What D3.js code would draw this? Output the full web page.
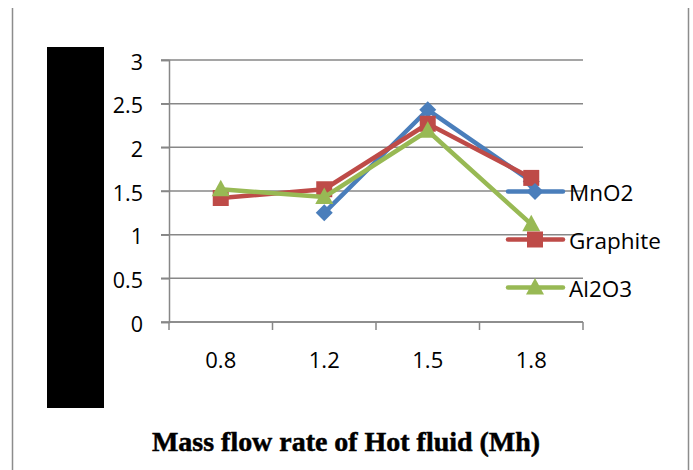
<!DOCTYPE html>
<html>
<head>
<meta charset="utf-8">
<script src="https://cdn.jsdelivr.net/npm/d3@7"></script>
<style>
  html, body { margin: 0; padding: 0; background: #fff; }
  svg { display: block; }
</style>
</head>
<body>
<svg id="chart" width="693" height="470"></svg>
<script>
// Mass flow rate of the hot fluid (x categories)
const categories = ["0.8", "1.2", "1.5", "1.8"];
const yTicks = [0, 0.5, 1, 1.5, 2, 2.5, 3];

// Series values per category (null = no reading)
const mno2 = [null, 1.25, 2.43, 1.61];
const graphite = [1.42, 1.52, 2.27, 1.65];
const al2o3 = [1.52, 1.43, 2.19, 1.12];

const seriesNames = ["MnO2", "Graphite", "Al2O3"];
const seriesColors = ["#4A7EBB", "#BE4B48", "#98B954"];

// Marker shapes: rotated square, square, upward triangle
const markerPaths = {
  diamond: () => { const p = d3.path(); p.moveTo(0, -8.5); p.lineTo(8.5, 0); p.lineTo(0, 8.5); p.lineTo(-8.5, 0); p.closePath(); return p.toString(); },
  square: () => { const p = d3.path(); p.rect(-8, -8, 16, 16); return p.toString(); },
  triangle: () => { const p = d3.path(); p.moveTo(0, -9.5); p.lineTo(9, 7); p.lineTo(-9, 7); p.closePath(); return p.toString(); }
};
const seriesShapes = ["diamond", "square", "triangle"];

const series = [mno2, graphite, al2o3].map((vals, i) => ({
  name: seriesNames[i],
  color: seriesColors[i],
  shape: seriesShapes[i],
  points: categories.map((c, j) => ({ c, v: vals[j] })).filter(p => p.v != null)
}));

const labelFont = "'Open Sans', sans-serif";

const svg = d3.select("#chart");

// Frame lines on the left and right
svg.append("line").attr("x1", 12.5).attr("x2", 12.5).attr("y1", 8).attr("y2", 470)
  .attr("stroke", "#8c8c8c").attr("stroke-width", 1.5);
svg.append("line").attr("x1", 688.5).attr("x2", 688.5).attr("y1", 8).attr("y2", 470)
  .attr("stroke", "#8c8c8c").attr("stroke-width", 1.5);

// Black block over the y-axis title area
svg.append("rect").attr("x", 47).attr("y", 47).attr("width", 57).attr("height", 361).attr("fill", "#000");

const plot = { left: 169, right: 583, top: 60, bottom: 322 };

const x = d3.scaleBand().domain(categories).range([plot.left, plot.right]);
const y = d3.scaleLinear().domain([0, 3]).range([plot.bottom, plot.top]);

// Horizontal gridlines
svg.append("g").selectAll("line").data(yTicks).join("line")
  .attr("x1", plot.left - 8).attr("x2", plot.right)
  .attr("y1", d => y(d)).attr("y2", d => y(d))
  .attr("stroke", "#878787").attr("stroke-width", 1.5);

// Y axis
const yAxis = svg.append("g").attr("transform", `translate(${plot.left},0)`)
  .call(d3.axisLeft(y).tickValues(yTicks).tickSize(8).tickPadding(18).tickFormat(d3.format("")));
yAxis.select(".domain").attr("stroke", "#878787").attr("stroke-width", 1.5);
yAxis.selectAll(".tick line").attr("stroke", "#878787").attr("stroke-width", 1.5);
yAxis.selectAll("text").attr("font-family", labelFont).attr("font-size", 21.5)
  .attr("dy", "0.42em").attr("fill", "#000");

// X axis with ticks between categories
const xAxisG = svg.append("g").attr("transform", `translate(0,${plot.bottom})`);
xAxisG.append("line").attr("x1", plot.left).attr("x2", plot.right).attr("y1", 0).attr("y2", 0)
  .attr("stroke", "#878787").attr("stroke-width", 1.5);
const boundaries = categories.map(c => x(c)).concat([x(categories[categories.length - 1]) + x.bandwidth()]);
xAxisG.selectAll("line.tk").data(boundaries).join("line").attr("class", "tk")
  .attr("x1", d => d).attr("x2", d => d).attr("y1", 0).attr("y2", 8)
  .attr("stroke", "#878787").attr("stroke-width", 1.5);
xAxisG.selectAll("text").data(categories).join("text")
  .attr("x", d => x(d) + x.bandwidth() / 2).attr("y", 46)
  .attr("text-anchor", "middle")
  .attr("font-family", labelFont).attr("font-size", 22).attr("fill", "#000")
  .text(d => d);

// Series lines and markers
const line = d3.line().x(d => x(d.c) + x.bandwidth() / 2).y(d => y(d.v));
series.forEach(s => {
  const g = svg.append("g");
  g.append("path").datum(s.points).attr("d", line)
    .attr("fill", "none").attr("stroke", s.color).attr("stroke-width", 4.5).attr("stroke-linejoin", "round");
  g.selectAll("path.mk").data(s.points).join("path").attr("class", "mk")
    .attr("transform", d => `translate(${x(d.c) + x.bandwidth() / 2},${y(d.v)})`)
    .attr("d", markerPaths[s.shape]())
    .attr("fill", s.color);
});

// Legend
const legend = svg.append("g");
series.forEach((s, i) => {
  const ly = 191.5 + i * 48;
  legend.append("line").attr("x1", 508).attr("x2", 563).attr("y1", ly).attr("y2", ly)
    .attr("stroke", s.color).attr("stroke-width", 4.5).attr("stroke-linecap", "round");
  legend.append("path").attr("transform", `translate(535,${ly})`)
    .attr("d", markerPaths[s.shape]())
    .attr("fill", s.color);
  legend.append("text").attr("x", 569).attr("y", ly + 9)
    .attr("font-family", labelFont).attr("font-size", 22.5).attr("fill", "#000")
    .text(s.name);
});

// X-axis title
svg.append("text").attr("x", 346).attr("y", 451).attr("text-anchor", "middle")
  .attr("font-family", "'Liberation Serif', serif").attr("font-weight", "bold").attr("font-size", 28)
  .attr("textLength", 388).attr("lengthAdjust", "spacingAndGlyphs")
  .attr("fill", "#000").attr("stroke", "#000").attr("stroke-width", 0.5)
  .text("Mass flow rate of Hot fluid (Mh)");
</script>
</body>
</html>
